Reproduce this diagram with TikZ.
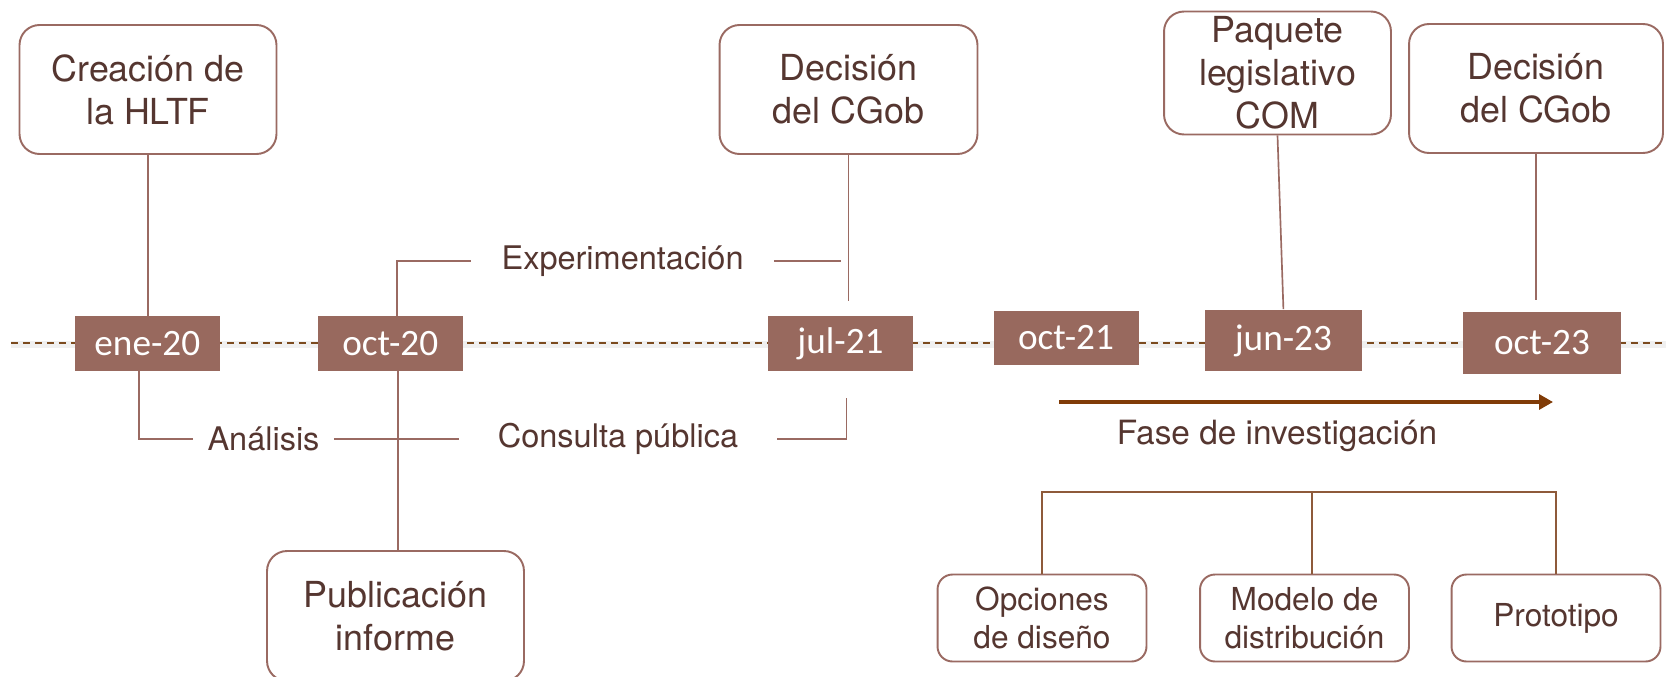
\documentclass[tikz,border=0pt]{standalone}
\usepackage{fontspec}
\setmainfont{TeX Gyre Heros}
\newfontfamily\fechafont{Carlito}
\usepackage{tikz}
\usetikzlibrary{arrows.meta,calc}

\definecolor{marron}{HTML}{9A6A62}
\definecolor{fechamarron}{HTML}{98695E}
\definecolor{textomarron}{HTML}{553630}
\definecolor{ejemarron}{HTML}{7B4A1E}
\definecolor{flechamarron}{HTML}{803B07}
\definecolor{ramamarron}{HTML}{8E5A3A}

\begin{document}
\begin{tikzpicture}[>={Triangle[length=0.28cm,width=0.3cm]}, x=0.02cm, y=-0.02cm]
      \tikzset{
	  hito/.style={draw=marron, line width=1.1pt, rounded corners=0.4cm, fill=white, text=textomarron, align=center, inner sep=0pt, font=\fontsize{20.4}{24.5}\selectfont},
	  fecha/.style={fill=fechamarron, text=white, inner sep=0pt, minimum width=2.9cm, minimum height=1.1cm, font=\fechafont\fontsize{21.2}{24}\selectfont},
	  etiqueta/.style={text=textomarron, font=\fontsize{18.5}{22}\selectfont},
	  caja/.style={draw=marron, line width=1.1pt, rounded corners=0.3cm, text=textomarron, align=center, inner sep=0pt, minimum width=4.18cm, minimum height=1.74cm, font=\fontsize{18}{21.5}\selectfont},
	  enlace/.style={draw=marron, line width=0.95pt},
	  ramal/.style={draw=ramamarron, line width=0.7pt},
      }
      \useasboundingbox (0,0) rectangle (1666,676);

      % eje temporal
      \coordinate (ejeA) at (11,343);
      \coordinate (ejeB) at (1666,343);
      \draw[black!6, line width=4pt] ([yshift=-1pt]ejeA) -- ([yshift=-1pt]ejeB);
      \draw[ejemarron, line width=1.2pt, dash pattern=on 0.14cm off 0.1cm] (ejeA) -- (ejeB);

      \node (ene20) at (147.3, 343.5) [fecha] {ene-20};
      \node (oct20) at (390.2, 343.5) [fecha] {oct-20};
      \node (jul21) at (840.5, 343.5) [fecha] {jul-21};
      \node (oct21) at (1066, 338) [fecha] {oct-21};
      \node (jun23) at (1283.4, 340.5) [fecha, minimum width=3.14cm, minimum height=1.24cm] {jun-23};
      \node (oct23) at (1542, 343) [fecha, minimum width=3.16cm, minimum height=1.24cm] {oct-23};

      \node (creacion) at (148, 89.5) [hito, minimum width=5.14cm, minimum height=2.58cm] {Creación de\\la HLTF};
      \node (decision1) at (848.5, 89.5) [hito, minimum width=5.16cm, minimum height=2.58cm] {Decisión\\del CGob};
      \node (paquete) at (1277.5, 73) [hito, minimum width=4.54cm, minimum height=2.46cm] {Paquete\\legislativo\\COM};
      \node (decision2) at (1536, 88.5) [hito, minimum width=5.08cm, minimum height=2.58cm] {Decisión\\del CGob};
      \node (publicacion) at (395.5, 616) [hito, minimum width=5.14cm, minimum height=2.6cm] {Publicación\\informe};

      \node (exper) at (622.6, 261) [etiqueta, inner xsep=0.6cm] {Experimentación};
      \node (analisis) at (263.5, 439) [etiqueta, inner xsep=0.28cm] {Análisis};
      \node (consulta) at (618, 439) [etiqueta, inner xsep=0.78cm] {Consulta pública};
      \node (fase) at (1277, 436) [etiqueta, font=\fontsize{19}{22}\selectfont] {Fase de investigación};

      \node (opciones) at (1042, 618) [caja] {Opciones\\de diseño};
      \node (modelo) at (1304.5, 618) [caja] {Modelo de\\distribución};
      \node (prototipo) at (1556, 618) [caja] {Prototipo};

      % hitos sobre el eje
      \draw [enlace] (creacion.south) -- (creacion.south |- ene20.north);
      \draw [enlace] (decision1.south) -- ([yshift=0.3cm]decision1.south |- jul21.north);
      \draw [enlace] (paquete.south) -- (jun23.north);
      \draw [enlace] (decision2.south) -- ([yshift=0.24cm]decision2.south |- oct23.north);
      \draw [enlace] ([xshift=0.16cm]oct20.south) -- ([xshift=0.16cm]oct20.south |- publicacion.north);

      % tramos
      \draw [enlace] ([xshift=0.14cm]oct20.north) |- (exper.west);
      \draw [enlace] (exper.east) -- (exper.east -| jul21.north);
      \draw [enlace] ([xshift=-0.16cm]ene20.south) |- (analisis.west);
      \draw [enlace] (analisis.east) -- (consulta.west);
      \draw [enlace] (consulta.east) -| ([shift={(6,27)}]jul21.south);

      \coordinate (faseA) at (1059, 402);
      \coordinate (faseB) at (1553, 402);
      \draw [flechamarron, line width=1.8pt, ->] (faseA) -- (faseB);

      \coordinate (rama) at (1044, 492);
      \draw [ramal] (opciones.north) -- (opciones.north |- rama) -| (prototipo.north);
      \draw [ramal] ([xshift=0.15cm]modelo.north) -- ([xshift=0.15cm]modelo.north |- rama);
\end{tikzpicture}
\end{document}
